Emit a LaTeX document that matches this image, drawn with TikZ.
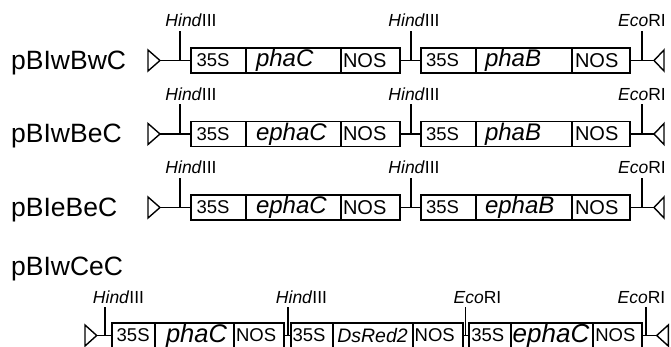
\documentclass[tikz,border=0pt]{standalone}
\usepackage{fontspec}
\setmainfont{Liberation Sans}
\tikzset{
  x=1pt, y=-1pt,
  seg/.style={draw, line width=1.7pt, minimum height=25pt, inner sep=0pt, outer sep=0pt,
    anchor=west, text width=#1, minimum width=#1, align=left,
    font=\fontsize{18.5}{18.5}\selectfont},
  nos/.style={font=\fontsize{20}{20}\selectfont},
  gene/.style={font=\fontsize{24}{24}\selectfont\itshape},
  enz/.style={anchor=base, inner sep=0pt, font=\fontsize{17.5}{17.5}\selectfont},
  plab/.style={anchor=base west, inner sep=0pt, font=\fontsize{26.5}{26.5}\selectfont},
  ln/.style={line width=1.7pt},
  bord/.style={line width=1.4pt, line join=miter, fill=white},
}
\newcommand{\tworow}[5]{%
  \node[plab] (lab#1) at (11,#2+9) {#3};
  \coordinate (rb#1) at (160,#2);
  \draw[bord] (rb#1) -- (148,#2-10.5) -- (148,#2+10.5) -- cycle;
  \node[seg=55pt] (p#1) at (191,#2) {\hspace*{5.5pt}35S};
  \node[seg=95pt, gene] (g#1) at (p#1.east) {\hspace*{10pt}#4};
  \node[seg=59pt, nos] (n#1) at (g#1.east) {\hspace*{2pt}NOS};
  \node[seg=55pt] (q#1) at (421,#2) {\hspace*{5pt}35S};
  \node[seg=96pt, gene] (h#1) at (q#1.east) {\hspace*{9pt}#5};
  \node[seg=58pt, nos] (m#1) at (h#1.east) {\hspace*{3pt}NOS};
  \coordinate (lb#1) at (654,#2);
  \draw[bord] (lb#1) -- (664,#2-10.5) -- (664,#2+10.5) -- cycle;
  \draw[ln] (rb#1) -- (p#1.west);
  \draw[ln] (n#1.east) -- (q#1.west);
  \draw[ln] (m#1.east) -- (lb#1);
  \coordinate (ta#1) at (180,#2);  \coordinate (tat#1) at (180,#2-29.5);
  \coordinate (tb#1) at (411,#2);  \coordinate (tbt#1) at (411,#2-29.5);
  \coordinate (tc#1) at (642,#2);  \coordinate (tct#1) at (642,#2-29.5);
  \draw[ln] (ta#1) -- (tat#1);
  \draw[ln] (tb#1) -- (tbt#1);
  \draw[ln] (tc#1) -- (tct#1);
  \node[enz] (ea#1) at (191,#2-33.5) {\textit{Hind}III};
  \node[enz] (eb#1) at (414,#2-33.5) {\textit{Hind}III};
  \node[enz] (ec#1) at (642,#2-33.5) {\textit{Eco}RI};
}
\begin{document}
\begin{tikzpicture}
\useasboundingbox (0,0) rectangle (671,347);
\clip (0,0) rectangle (671,347);
\fill[white] (0,0) rectangle (671,347);

\tworow{1}{60.5}{pBIwBwC}{phaC}{phaB}
\tworow{2}{134}{pBIwBeC}{ephaC}{phaB}
\tworow{3}{207.5}{pBIeBeC}{ephaC}{ephaB}

% row 4
\node[plab] (lab4) at (11,275) {pBIwCeC};
\coordinate (rb4) at (96.7,335.5);
\draw[bord] (rb4) -- (85,325) -- (85,346) -- cycle;
\node[seg=43.3pt, font=\fontsize{18.5}{18.5}\selectfont] (a1) at (111.7,335.5) {\hspace*{5pt}35S};
\node[seg=79pt, font=\fontsize{25.5}{25.5}\selectfont\itshape] (a2) at (a1.east) {\hspace*{11pt}phaC};
\node[seg=50.3pt, font=\fontsize{18.5}{18.5}\selectfont] (a3) at (a2.east) {\hspace*{2pt}NOS};
\node[seg=42.3pt, font=\fontsize{18.5}{18.5}\selectfont] (b1) at (291,335.5) {\hspace*{1.5pt}35S};
\node[seg=79.4pt, font=\fontsize{19.5}{19.5}\selectfont\itshape] (b2) at (b1.east) {\hspace*{4pt}DsRed2};
\node[seg=50pt, font=\fontsize{18.5}{18.5}\selectfont] (b3) at (b2.east) {\hspace*{2pt}NOS};
\node[seg=41.4pt, font=\fontsize{18.5}{18.5}\selectfont] (c1) at (469.3,335.5) {\hspace*{2pt}35S};
\node[seg=82.6pt, font=\fontsize{26}{26}\selectfont\itshape] (c2) at (c1.east) {\hspace*{2pt}ephaC};
\node[seg=48.4pt, font=\fontsize{18.5}{18.5}\selectfont] (c3) at (c2.east) {\hspace*{2pt}NOS};
\coordinate (lb4) at (656.7,335.5);
\draw[bord] (lb4) -- (668.3,325) -- (668.3,346) -- cycle;
\draw[ln] (rb4) -- (a1.west);
\draw[ln] (a3.east) -- (b1.west);
\draw[ln] (b3.east) -- (c1.west);
\draw[ln] (c3.east) -- (lb4);
\coordinate (u1) at (105,335.5);   \coordinate (u1t) at (105,307);
\coordinate (u2) at (288,335.5);   \coordinate (u2t) at (288,307);
\coordinate (u3) at (465.5,335.5); \coordinate (u3t) at (465.5,307);
\coordinate (u4) at (646,335.5);   \coordinate (u4t) at (646,307);
\draw[ln] (u1) -- (u1t);
\draw[ln] (u2) -- (u2t);
\draw[ln] (u3) -- (u3t);
\draw[ln] (u4) -- (u4t);
\node[enz] (f1) at (118.5,303) {\textit{Hind}III};
\node[enz] (f2) at (301.5,303) {\textit{Hind}III};
\node[enz] (f3) at (477.5,303) {\textit{Eco}RI};
\node[enz] (f4) at (641.5,303) {\textit{Eco}RI};
\end{tikzpicture}
\end{document}
